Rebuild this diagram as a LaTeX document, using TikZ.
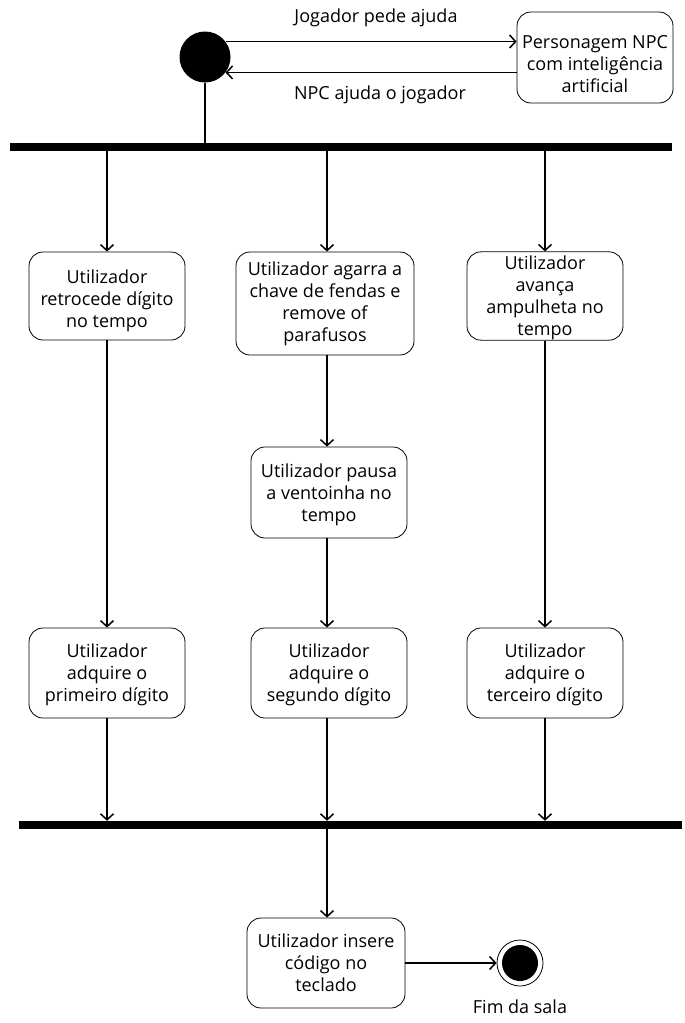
\documentclass[tikz,border=0pt]{standalone}
\usepackage{fontspec}
\setmainfont{Open Sans}
\usetikzlibrary{arrows.meta}
\newcommand{\dn}[1]{\rule{0pt}{#1}}
\begin{document}
\begin{tikzpicture}[x=1pt,y=-1pt,
  every node/.style={font=\fontsize{18}{22}\selectfont},
  act/.style={draw, line width=0.8pt, rounded corners=14pt, align=center, inner sep=0pt},
  bar/.style={fill=black, inner sep=0pt, minimum height=8pt},
  arr/.style={line width=1.5pt, -{Straight Barb[length=6pt,width=13pt,line width=1.5pt]}},
  ln/.style={line width=1.5pt},
  lbl/.style={inner sep=0pt}]
\useasboundingbox (0,0) rectangle (685,1023);
% start
\node[circle, fill=black, minimum size=51pt, inner sep=0pt] (start) at (205,57) {};
\node[act, minimum width=156pt, minimum height=91pt] (npc) at (595,57.5) {\dn{27pt}Personagem NPC\\com inteligência\\artificial};
\draw[arr] (start.37) -- (start.37 -| npc.west);
\draw[arr] (start.-37 -| npc.west) -- (start.-37);
\node[lbl] (l1) at (376,18) {Jogador pede ajuda};
\node[lbl] (l2) at (380,95) {NPC ajuda o jogador};
% fork
\node[bar, minimum width=662pt] (fork) at (341,147) {};
\draw[ln] (start) -- (start |- fork.north);
% row 1
\node[act, minimum width=156pt, minimum height=88pt] (A) at (107,296) {\dn{23.5pt}Utilizador\\retrocede dígito\\no tempo};
\node[act, minimum width=178pt, minimum height=103pt] (B) at (325,303.5) {Utilizador agarra a\\chave de fendas e\\remove of\\parafusos};
\node[act, minimum width=156pt, minimum height=88pt] (C) at (545,296) {\dn{18pt}Utilizador\\avança\\ampulheta no\\tempo};
\draw[arr] (fork.south -| A) -- (A.north);
\draw[arr] (fork.south -| 327,0) -- (B.north -| 327,0);
\draw[arr] (fork.south -| C) -- (C.north);
% row 2
\node[act, minimum width=156pt, minimum height=91pt] (D) at (329,492.5) {\dn{17.5pt}Utilizador pausa\\a ventoinha no\\tempo};
\draw[arr] (B.south -| 327,0) -- (D.north -| 327,0);
% row 3
\node[act, minimum width=156pt, minimum height=90pt] (E) at (107,673) {\dn{17.5pt}Utilizador\\adquire o\\primeiro dígito};
\node[act, minimum width=156pt, minimum height=90pt] (F) at (329,673) {\dn{17.5pt}Utilizador\\adquire o\\segundo dígito};
\node[act, minimum width=156pt, minimum height=90pt] (G) at (545,673) {\dn{17.5pt}Utilizador\\adquire o\\terceiro dígito};
\draw[arr] (A) -- (E);
\draw[arr] (D.south -| 327,0) -- (F.north -| 327,0);
\draw[arr] (C) -- (G);
% join
\node[bar, minimum width=663pt] (join) at (350.5,825) {};
\draw[arr] (E) -- (E |- join.north);
\draw[arr] (F.south -| 327,0) -- (join.north -| 327,0);
\draw[arr] (G) -- (G |- join.north);
% final action
\node[act, minimum width=158pt, minimum height=90pt] (H) at (326,963) {Utilizador insere\\código no\\teclado};
\draw[arr] (join.south -| 327,0) -- (H.north -| 327,0);
% end
\node[circle, draw, line width=0.8pt, minimum size=46pt, inner sep=0pt] (endc) at (520,963) {};
\node[circle, fill=black, minimum size=36pt, inner sep=0pt] (endin) at (endc) {};
\draw[arr] (H) -- (endc);
\node[lbl] (fim) at (520,1007) {Fim da sala};
\end{tikzpicture}
\end{document}
